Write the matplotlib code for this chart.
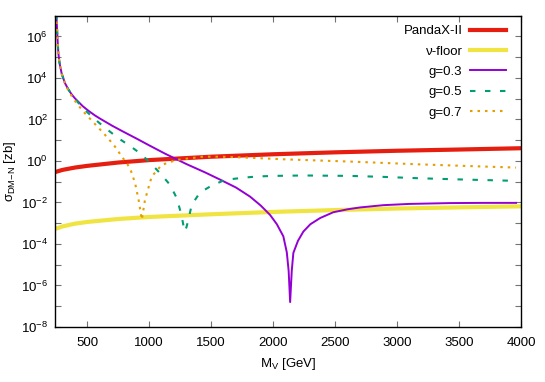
import numpy as np
import matplotlib
matplotlib.use('Agg')
import matplotlib.pyplot as plt
from matplotlib.ticker import FixedLocator, FuncFormatter

plt.rcParams['font.family'] = ['Liberation Sans', 'DejaVu Sans']
plt.rcParams['mathtext.fontset'] = 'custom'
plt.rcParams['mathtext.rm'] = 'Liberation Sans'
plt.rcParams['mathtext.it'] = 'Liberation Sans:italic'
plt.rcParams['font.size'] = 9.5

# PandaX-II limit [zb]
m_pandax = [240, 300, 400, 500, 750, 1000, 1500, 2000, 2500, 3000, 3500, 4000]
s_pandax = [0.29, 0.37, 0.48, 0.58, 0.84, 1.1, 1.6, 2.1, 2.6, 3.1, 3.55, 4.1]

# neutrino floor [zb]
m_floor = [240, 300, 400, 500, 750, 1000, 1500, 2000, 2500, 3000, 3500, 4000]
s_floor = [5.3e-4, 7e-4, 9.5e-4, 1.15e-3, 1.6e-3, 2.0e-3, 2.7e-3, 3.5e-3,
           4.3e-3, 5.1e-3, 5.8e-3, 6.5e-3]

# g = 0.3, log10(sigma)
m_g03 = [245, 250, 255, 259, 263, 267, 273, 280, 294, 320, 347, 375, 400, 428, 465,
         509, 560, 600, 700, 778, 900, 1000, 1128, 1300, 1450, 1572, 1700, 1814,
         1900, 1975, 2030, 2082, 2110, 2125, 2137, 2150, 2163, 2200, 2244, 2300,
         2379, 2486, 2600, 2701, 2890, 3100, 3428, 3700, 3960]
l_g03 = [8.0, 7.2, 6.5, 6.0, 5.55, 5.2, 4.85, 4.6, 4.2, 3.75, 3.45, 3.2, 3.02, 2.85, 2.63,
         2.42, 2.2, 2.05, 1.7, 1.45, 1.07, 0.75, 0.35, -0.15, -0.55, -0.9, -1.28, -1.72,
         -2.15, -2.6, -3.05, -3.63, -4.4, -5.3, -6.8, -5.3, -4.43, -3.85, -3.4, -3.05,
         -2.75, -2.47, -2.33, -2.24, -2.13, -2.07, -2.03, -2.02, -2.02]

# g = 0.5, log10(sigma)
m_g05 = [245, 250, 255, 259, 263, 267, 273, 280, 294, 320, 347, 375, 400, 428, 465,
         509, 560, 643, 750, 850, 926, 1007, 1087, 1168, 1222, 1260, 1285, 1300,
         1316, 1343, 1410, 1500, 1612, 1773, 1868, 2000, 2244, 2621, 2900, 3159,
         3500, 3966]
l_g05 = [8.0, 7.2, 6.5, 6.0, 5.55, 5.2, 4.85, 4.6, 4.2, 3.75, 3.45, 3.2, 3.0, 2.8, 2.55,
         2.3, 2.02, 1.6, 1.1, 0.7, 0.37, -0.08, -0.59, -1.15, -1.79, -2.6, -3.4, -3.2,
         -2.83, -2.11, -1.52, -1.2, -0.91, -0.8, -0.75, -0.72, -0.70, -0.72, -0.77,
         -0.83, -0.89, -0.96]

# g = 0.7, log10(sigma)
m_g07 = [245, 250, 255, 259, 263, 267, 273, 280, 294, 320, 347, 375, 400, 428, 465,
         520, 590, 660, 724, 780, 818, 845, 886, 915, 940, 966, 1020, 1101, 1222,
         1437, 1600, 1827, 2082, 2621, 3159, 3600, 3960]
l_g07 = [8.0, 7.2, 6.5, 6.0, 5.55, 5.2, 4.85, 4.6, 4.2, 3.73, 3.4, 3.12, 2.9, 2.68, 2.4,
         2.05, 1.6, 1.15, 0.69, 0.2, -0.11, -0.35, -1.07, -1.9, -2.83, -1.87, -0.75,
         -0.19, 0.05, 0.21, 0.2, 0.15, 0.08, -0.03, -0.16, -0.25, -0.32]

fig = plt.figure(figsize=(5.45, 3.82), dpi=100)
ax = fig.add_axes([0.101, 0.144, 0.855, 0.815])

ax.plot(m_pandax, s_pandax, color='#e51e10', lw=3.0, label='PandaX-II')
ax.plot(m_floor, s_floor, color='#f0e442', lw=3.0, label='ν-floor')
ax.plot(m_g03, 10 ** np.array(l_g03), color='#9400d3', lw=1.4, label='g=0.3')
ax.plot(m_g05, 10 ** np.array(l_g05), color='#009e73', lw=1.5,
        dashes=(2.6, 4.6), label='g=0.5')
ax.plot(m_g07, 10 ** np.array(l_g07), color='#e69f00', lw=1.5,
        dashes=(1.2, 2.4), label='g=0.7')

ax.set_yscale('log')
ax.set_xlim(240, 4000)
ax.set_ylim(1e-8, 1e7)
ax.xaxis.set_major_locator(FixedLocator(range(500, 4001, 500)))
ax.yaxis.set_major_locator(FixedLocator([10.0 ** k for k in range(-8, 8)]))
ax.yaxis.set_minor_locator(FixedLocator([]))


def ylab(v, pos):
    k = int(round(np.log10(v)))
    if k % 2 or k > 6:
        return ''
    return '$10^{%d}$' % k


ax.yaxis.set_major_formatter(FuncFormatter(ylab))
ax.tick_params(which='both', direction='in', top=True, right=True,
               length=4, width=0.8, color='0.45', labelsize=9.5)
ax.tick_params(axis='x', pad=7)
ax.tick_params(axis='y', pad=5)
for sp in ax.spines.values():
    sp.set_linewidth(1.0)

ax.set_xlabel('M$_\\mathrm{V}$ [GeV]', labelpad=5)
ax.set_ylabel('σ$_\\mathrm{DM{-}N}$ [zb]', labelpad=2)

ax.legend(loc='upper right', bbox_to_anchor=(0.979, 0.987), borderaxespad=0.0,
          frameon=False, markerfirst=False, handlelength=2.7,
          labelspacing=0.62, fontsize=9.5, handletextpad=0.6)

fig.savefig('out.png', dpi=100)
